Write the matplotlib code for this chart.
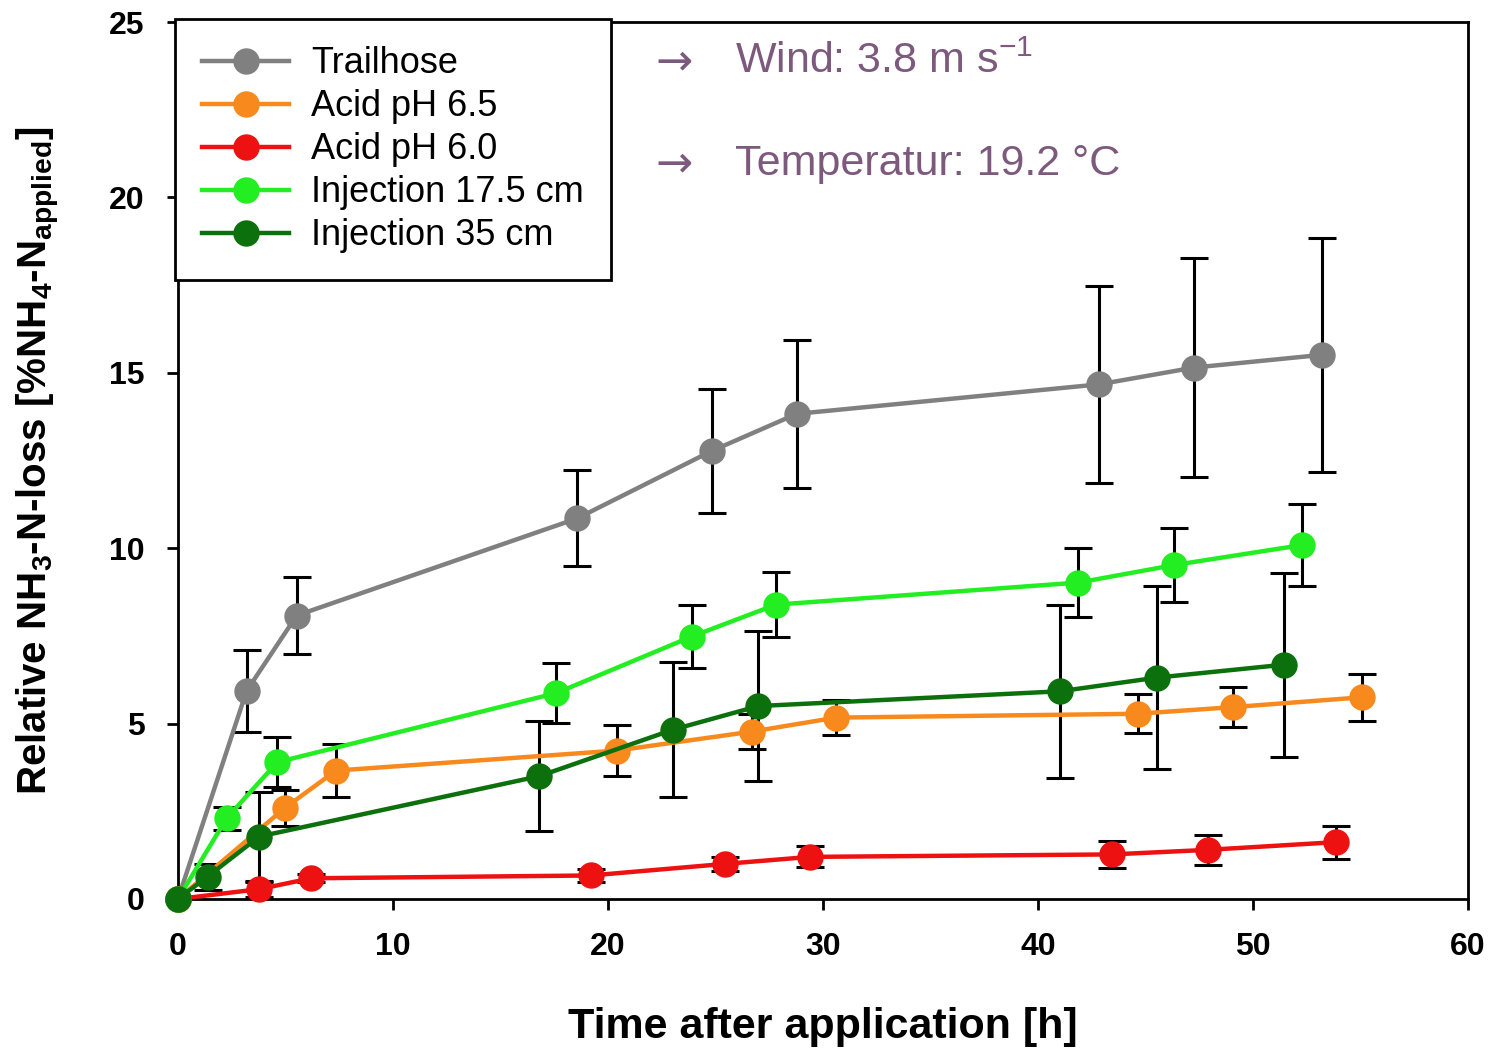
import matplotlib
matplotlib.use("Agg")
import matplotlib.pyplot as plt

# time after application [h] and relative loss [%] per treatment
trail_x = [0, 3.19, 5.52, 18.57, 24.82, 28.78, 42.84, 47.27, 53.19]
trail_y = [0, 5.93, 8.08, 10.85, 12.77, 13.83, 14.67, 15.15, 15.51]
trail_e = [0, 1.16, 1.11, 1.37, 1.76, 2.10, 2.80, 3.13, 3.33]

ac65_x = [0, 4.98, 7.35, 20.4, 26.68, 30.6, 44.63, 49.09, 55.08]
ac65_y = [0, 2.60, 3.66, 4.23, 4.77, 5.17, 5.28, 5.47, 5.75]
ac65_e = [0, 0.51, 0.75, 0.73, 0.50, 0.50, 0.55, 0.58, 0.67]

ac60_x = [0, 3.78, 6.19, 19.2, 25.44, 29.4, 43.43, 47.89, 53.86]
ac60_y = [0, 0.28, 0.59, 0.67, 1.00, 1.20, 1.27, 1.40, 1.62]
ac60_e = [0, 0.21, 0.12, 0.18, 0.20, 0.30, 0.39, 0.43, 0.47]

inj17_x = [0, 2.26, 4.62, 17.6, 23.89, 27.81, 41.88, 46.34, 52.29]
inj17_y = [0, 2.30, 3.90, 5.87, 7.48, 8.39, 9.02, 9.52, 10.09]
inj17_e = [0, 0.33, 0.72, 0.86, 0.90, 0.93, 0.99, 1.06, 1.18]

inj35_x = [0, 1.38, 3.78, 16.8, 23.04, 27.0, 41.02, 45.52, 51.46]
inj35_y = [0, 0.64, 1.78, 3.50, 4.83, 5.50, 5.92, 6.31, 6.68]
inj35_e = [0, 0.37, 1.26, 1.57, 1.93, 2.15, 2.47, 2.60, 2.62]

labels = ["Trailhose", "Acid pH 6.5", "Acid pH 6.0", "Injection 17.5 cm", "Injection 35 cm"]
colors = ["#808080", "#F8891C", "#EE1111", "#22EE22", "#0C700C"]

plt.rcParams["font.family"] = ["Liberation Sans", "DejaVu Sans"]
plt.rcParams["mathtext.fontset"] = "custom"
plt.rcParams["mathtext.rm"] = "Liberation Sans:bold"
plt.rcParams["mathtext.sf"] = "Liberation Sans"
plt.rcParams["mathtext.default"] = "rm"

fig = plt.figure(figsize=(14.97, 10.48), dpi=100)
ax = fig.add_axes([0.1189, 0.1422, 0.8617, 0.8368])

series = [(trail_x, trail_y, trail_e), (ac65_x, ac65_y, ac65_e), (ac60_x, ac60_y, ac60_e),
          (inj17_x, inj17_y, inj17_e), (inj35_x, inj35_y, inj35_e)]
handles = []
for (x, y, e), c, lab in zip(series, colors, labels):
    ax.errorbar(x, y, yerr=e, fmt="none", ecolor="black", elinewidth=2.2,
                capsize=10, capthick=2.2, zorder=2)
    h, = ax.plot(x, y, "-o", color=c, lw=3.2, ms=18, label=lab, zorder=3, clip_on=False)
    handles.append(h)

ax.set_xlim(0, 60)
ax.set_ylim(0, 25)
ax.set_xticks(range(0, 61, 10))
ax.set_yticks(range(0, 26, 5))
ax.tick_params(direction="out", length=8, width=2, labelsize=23, pad=16)
for t in ax.get_xticklabels() + ax.get_yticklabels():
    t.set_fontweight("bold")
for s in ax.spines.values():
    s.set_linewidth(2)

ax.set_xlabel("Time after application [h]", fontsize=31, fontweight="bold", labelpad=32)
ax.set_ylabel("Relative NH$_3$-N-loss [%NH$_4$-N$_{applied}$]", fontsize=29,
              fontweight="bold", labelpad=34)

leg = ax.legend(handles=handles, loc="upper left", bbox_to_anchor=(-0.002, 1.003),
                borderaxespad=0, fontsize=26, handlelength=2.4, labelspacing=0.22,
                fancybox=False, framealpha=1, edgecolor="black", borderpad=0.75,
                handletextpad=0.6)
leg.get_frame().set_linewidth(2)

purple = "#7D5A7D"
ax.text(0.37, 0.955, "→", transform=ax.transAxes, fontsize=32, color=purple,
        va="center", family=["DejaVu Sans"])
ax.text(0.432, 0.955, "Wind: 3.8 m s$\\mathsf{^{-1}}$", transform=ax.transAxes,
        fontsize=31, color=purple, va="center")
ax.text(0.37, 0.838, "→", transform=ax.transAxes, fontsize=32, color=purple,
        va="center", family=["DejaVu Sans"])
ax.text(0.432, 0.838, "Temperatur: 19.2 °C", transform=ax.transAxes,
        fontsize=31, color=purple, va="center")

fig.savefig("out.png", dpi=100)
